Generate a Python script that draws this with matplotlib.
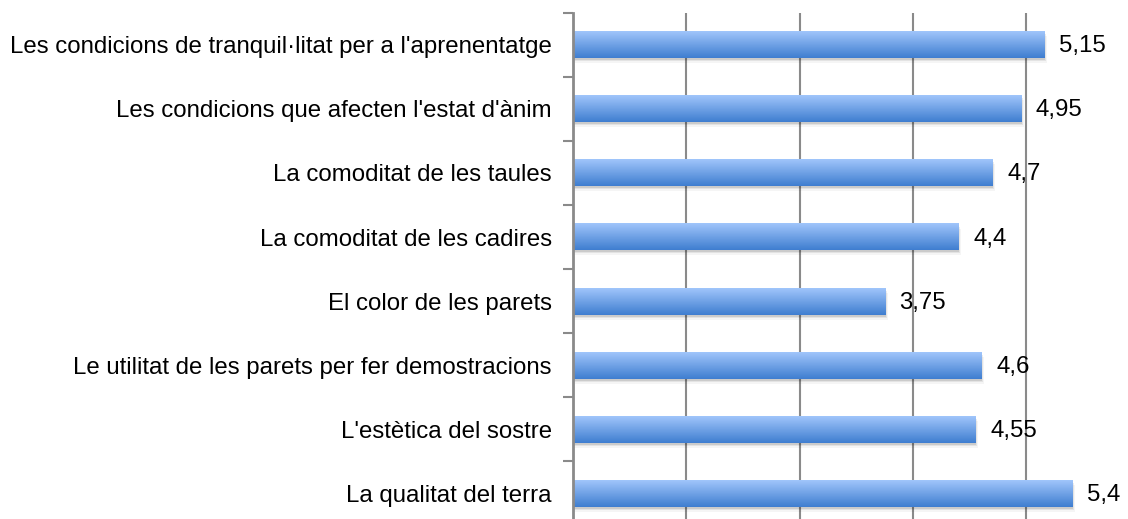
import matplotlib
matplotlib.use("Agg")
import matplotlib.pyplot as plt
import matplotlib.transforms as mtransforms
import numpy as np
from matplotlib.colors import to_rgb

categories = [
    "Les condicions de tranquil·litat per a l'aprenentatge",
    "Les condicions que afecten l'estat d'ànim",
    "La comoditat de les taules",
    "La comoditat de les cadires",
    "El color de les parets",
    "Le utilitat de les parets per fer demostracions",
    "L'estètica del sostre",
    "La qualitat del terra",
]
values = [5.15, 4.95, 4.7, 4.4, 3.75, 4.6, 4.55, 5.4]
value_labels = ["5,15", "4,95", "4,7", "4,4", "3,75", "4,6", "4,55", "5,4"]

plt.rcParams['font.family'] = ['Liberation Sans', 'DejaVu Sans']

fig = plt.figure(figsize=(11.28, 5.19), dpi=100)
ax = fig.add_axes([572.5/1128, -6.4/519, (5*113.5)/1128, (525.4-12.7)/519])

xmin, xmax = 1, 6
bar_h = 0.42
y = np.arange(len(categories))
fs = 17.25

# shadows
for (dx, dy, a) in [(1, -2, 0.10), (2, -3, 0.07), (3, -5, 0.04)]:
    tr = mtransforms.offset_copy(ax.transData, fig=fig, x=dx, y=dy, units='dots')
    ax.barh(y, values, height=bar_h, color='black', alpha=a, transform=tr,
            zorder=2, linewidth=0)

# gradient bars
top = np.array(to_rgb('#a0c5fb'))
bot = np.array(to_rgb('#3f7ed0'))
t = np.linspace(0, 1, 64)[:, None]
grad = (top[None, :] * (1 - t) + bot[None, :] * t)[:, None, :]
bars = ax.barh(y, values, height=bar_h, color='none', linewidth=0, zorder=3)
for yi, v in zip(y, values):
    ax.imshow(grad, extent=(0, v, yi + bar_h/2, yi - bar_h/2), origin='upper',
              aspect='auto', interpolation='bilinear', zorder=3)

for yi, v, lab in zip(y, values, value_labels):
    tr = mtransforms.offset_copy(ax.transData, fig=fig, x=15, y=-1.5, units='dots')
    ax.text(v, yi, lab, transform=tr, ha='left', va='center', fontsize=fs,
            color='black', zorder=5)

ax.set_xlim(xmin, xmax)
ax.set_ylim(len(categories) - 0.5, -0.5)
ax.set_xticks([2, 3, 4, 5])
ax.set_xticklabels([])
ax.tick_params(axis='x', length=0)
ax.grid(axis='x', color='#8a8a8a', linewidth=1.5, zorder=1)
ax.set_axisbelow(True)

ax.set_yticks(y)
ax.set_yticklabels(categories, fontsize=fs)
ax.tick_params(axis='y', which='major', length=0, pad=15)
ax.set_yticks(np.arange(-0.5, len(categories) + 0.5, 1), minor=True)
ax.tick_params(axis='y', which='minor', length=7, width=1.5, color='#8a8a8a')

for s in ['top', 'right', 'bottom']:
    ax.spines[s].set_visible(False)
ax.spines['left'].set_color('#8a8a8a')
ax.spines['left'].set_linewidth(2)
ax.spines['left'].set_zorder(4)
ax.patch.set_alpha(0)

fig.savefig('out.png', dpi=100)
